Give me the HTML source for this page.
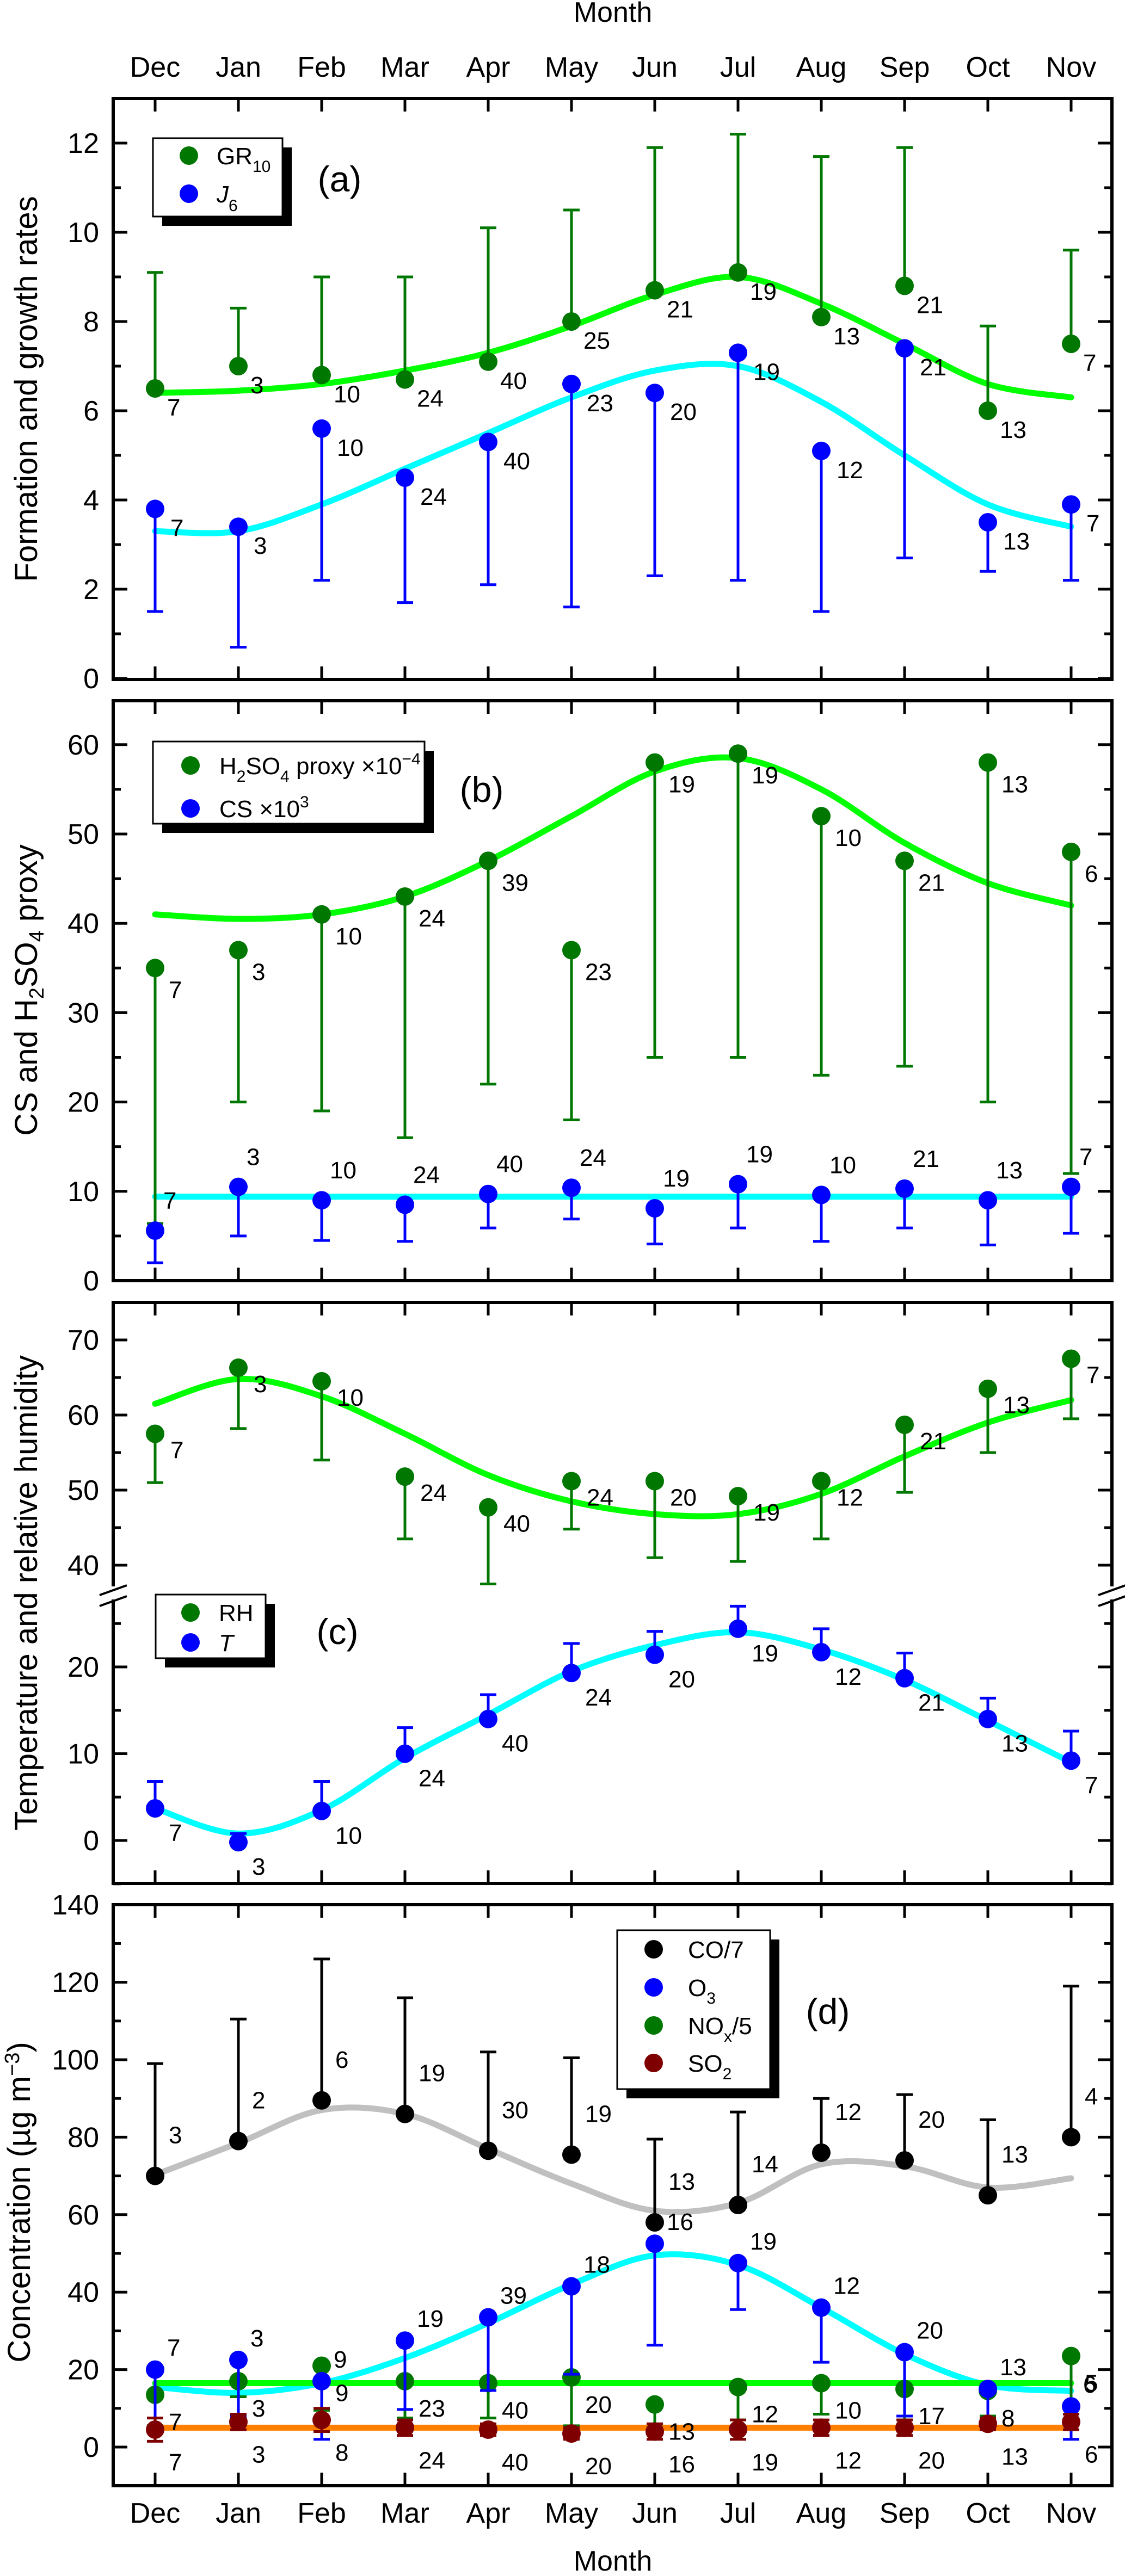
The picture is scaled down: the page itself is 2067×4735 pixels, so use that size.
<!DOCTYPE html>
<html><head><meta charset="utf-8"><style>
html,body{margin:0;padding:0;background:#fff}
svg{display:block}
text{font-family:"Liberation Sans",Arial,sans-serif;fill:#000}
</style></head><body>
<svg id="chart" xmlns="http://www.w3.org/2000/svg" width="2067" height="4735" viewBox="0 0 2067 4735"></svg>
<script>
const months=['Dec','Jan','Feb','Mar','Apr','May','Jun','Jul','Aug','Sep','Oct','Nov'];
// Panel a
const grVals=[6.5,7.0,6.8,6.7,7.1,8.0,8.7,9.1,8.1,8.8,6.0,7.5];
const grUpper=[9.1,8.3,9.0,9.0,10.1,10.5,11.9,12.2,11.7,11.9,7.9,9.6];
const grN=[7,3,10,24,40,25,21,19,13,21,13,7];
const grFit=[6.4,6.45,6.6,6.9,7.3,7.9,8.6,9.0,8.4,7.5,6.6,6.3];
const jVals=[3.8,3.4,5.6,4.5,5.3,6.6,6.4,7.3,5.1,7.4,3.5,3.9];
const jLower=[1.5,0.7,2.2,1.7,2.1,1.6,2.3,2.2,1.5,2.7,2.4,2.2];
const jN=[7,3,10,24,40,23,20,19,12,21,13,7];
const jFit=[3.3,3.3,3.9,4.7,5.5,6.3,6.9,7.0,6.2,5.0,3.9,3.4];
// Panel b
const hVals=[35,37,41,43,47,37,58,59,52,47,58,48];
const hLower=[6.4,20,19,16,22,18,25,25,23,24,20,12];
const hN=[7,3,10,24,39,23,19,19,10,21,13,6];
const hFit=[41,40.5,41,43,47,52,57,58.5,55,49,44.5,42];
const csVals=[5.6,10.5,9,8.5,9.7,10.4,8.1,10.8,9.6,10.3,9,10.5];
const csLower=[2,5,4.5,4.4,5.9,6.9,4.1,5.9,4.4,5.9,4,5.3];
const csN=[7,3,10,24,40,24,19,19,10,21,13,7];
const csFit=[9.4,9.4,9.4,9.4,9.4,9.4,9.4,9.4,9.4,9.4,9.4,9.4];
// Panel c
const rhVals=[57.5,66.3,64.5,51.8,47.7,51.2,51.2,49.2,51.2,58.7,63.5,67.5];
const rhLower=[51,58.2,54,43.5,37.5,44.8,41,40.5,43.5,49.7,55,59.5];
const rhN=[7,3,10,24,40,24,20,19,12,21,13,7];
const rhFit=[61.5,64.8,62.5,57.5,52,48.5,46.8,46.8,49.5,54.5,59,62];
const tVals=[3.7,-0.2,3.4,10,14,19.3,21.4,24.4,21.7,18.7,14,9.2];
const tUpper=[6.8,0.8,6.8,13,16.8,22.7,24.1,27,24.4,21.6,16.4,12.6];
const tN=[7,3,10,24,40,24,20,19,12,21,13,7];
const tFit=[3.7,0.8,3.5,9.5,14.5,19.5,22.5,24,22,18.5,13.8,9];
// Panel d
const coVals=[70,79,89.5,86,76.5,75.5,58,62.5,76,74,65,80];
const coUpper=[99,110.5,126,116,102,100.5,79.5,86.5,90,91,84.5,119];
const coN=[3,2,6,19,30,19,13,14,12,20,13,4];
const coFit=[70.3,78.5,87,86,77,68,61,63,73,72.5,67,69.4];
const o3Vals=[20,22.5,17,27.5,33.5,41.5,52.5,47.5,36,24.5,15,10.5];
const o3Lower=[5,8,2,9.7,14.6,18.8,26.3,35.5,21.9,8,4.5,2];
const o3N=[7,3,9,19,39,18,16,19,12,20,13,6];
const o3Fit=[15.5,14,16.5,23,32,42,49.5,47,36,24,16,14.5];
const noxVals=[13.5,17,21,17,16.5,18,11,15.5,16.5,15,14.5,23.5];
const noxLower=[5.5,13,9.5,7.5,7.5,5.5,5,7,8.5,7,8,10];
const noxN=[7,3,9,23,40,20,13,12,10,17,8,5];
const noxFit=[16.5,16.5,16.5,16.5,16.5,16.5,16.5,16.5,16.5,16.5,16.5,16.5];
const so2Vals=[4.5,6.5,7,5,4.5,3.5,4,4.5,5,5,6,6.5];
const so2Err=[3,2,3,2,1.5,1.5,2,2.5,2,2,1.5,2];
const so2N=[7,3,8,24,40,20,16,19,12,20,13,6];
const so2Fit=[5,5,5,5,5,5,5,5,5,5,5,5];

const NS='http://www.w3.org/2000/svg';
const svg=document.getElementById('chart');
function el(tag,attrs,parent){const e=document.createElementNS(NS,tag);for(const k in attrs)e.setAttribute(k,attrs[k]);(parent||svg).appendChild(e);return e;}
const L=208,R=2043;
const xOf=i=>285+i*153;
const C={dg:'#007700',bl:'#0000ff',lg:'#00ff00',cy:'#00ffff',gr:'#c0c0c0',br:'#7f0000',or:'#ff8000'};

function frame(top,bot,name){
  const r=el('rect',{x:L,y:top,width:R-L,height:bot-top,fill:'none',stroke:'#000','stroke-width':6});
  
  
  months.forEach((m,i)=>{
    const x=xOf(i);
    const t1=el('line',{x1:x,y1:top,x2:x,y2:top+24,stroke:'#000','stroke-width':5});
    
    
    const t2=el('line',{x1:x,y1:bot,x2:x,y2:bot-24,stroke:'#000','stroke-width':5});
    
    
  });
}
function yTicks(ys,v0,v1,step,labelStep,lo,hi){
  for(let v=v0;v<=v1+1e-9;v+=step){
    const y=ys(v); if(y<lo-1||y>hi+1)continue;
    const major=Math.abs(v/labelStep-Math.round(v/labelStep))<1e-6;
    const len=major?26:14;
    const a=el('line',{x1:L,y1:y,x2:L+len,y2:y,stroke:'#000','stroke-width':5});
    
    
    const b=el('line',{x1:R,y1:y,x2:R-len,y2:y,stroke:'#000','stroke-width':5});
    
    
    if(major){
      const t=el('text',{x:182,y:y+18,'font-size':52,'text-anchor':'end'});
      t.textContent=String(Math.round(v));
      
      
    }
  }
}
function curve(vals,ys,color,name){
  const p=vals.map((v,i)=>[xOf(i),ys(v)]);
  let d='M'+p[0][0]+','+p[0][1];
  for(let i=0;i<p.length-1;i++){
    const p0=p[i-1]||p[i],p1=p[i],p2=p[i+1],p3=p[i+2]||p[i+1];
    const c1=[p1[0]+(p2[0]-p0[0])/6,p1[1]+(p2[1]-p0[1])/6];
    const c2=[p2[0]-(p3[0]-p1[0])/6,p2[1]-(p3[1]-p1[1])/6];
    d+=` C${c1[0]},${c1[1]} ${c2[0]},${c2[1]} ${p2[0]},${p2[1]}`;
  }
  const e=el('path',{d,fill:'none',stroke:color,'stroke-width':11,'stroke-linecap':'round'});
  
  
}
function series(vals,errEnd,ys,col,errCol,name,counts,ldx,ldy,r){
  r=r||17;
  vals.forEach((v,i)=>{
    const x=xOf(i),y=ys(v);
    if(errEnd){
      const ends=Array.isArray(errEnd[0])?errEnd[i]:[errEnd[i]];
      ends.forEach(ev=>{
        const ye=ys(ev);
        const l=el('line',{x1:x,y1:y,x2:x,y2:ye,stroke:errCol,'stroke-width':5});
        
        
        const c=el('line',{x1:x-15,y1:ye,x2:x+15,y2:ye,stroke:errCol,'stroke-width':5});
        
        
      });
    }
    const m=el('ellipse',{cx:x,cy:y,rx:r,ry:r,fill:col});
    
    
    if(counts){
      const t=el('text',{x:x+ldx,y:y+ldy,'font-size':44});
      t.textContent=String(counts[i]);
      
      
    }
  });
}
function legend(x,y,w,h,entries,name){
  const s=el('rect',{x:x+17,y:y+17,width:w,height:h,fill:'#000'});
  
  
  const b=el('rect',{x,y,width:w,height:h,fill:'#fff',stroke:'#000','stroke-width':3});
  
  
  entries.forEach(en=>{
    const c=el('ellipse',{cx:en.mx,cy:en.y,rx:17,ry:17,fill:en.col});
    
    
    const t=el('text',{x:en.tx,y:en.y+16,'font-size':en.fs||44});
    t.innerHTML=en.html;
    
    
  });
}
function label(txt,x,y,size,name,anchor,rot){
  const t=el('text',{x,y,'font-size':size,'text-anchor':anchor||'middle'});
  if(rot)t.setAttribute('transform',`rotate(-90 ${x} ${y})`);
  t.innerHTML=txt;
  
  
  return t;
}

label('Month',1126,40,52,'top-x-axis-title');
months.forEach((m,i)=>label(m,xOf(i),141,52,'top-month-label'));
months.forEach((m,i)=>label(m,xOf(i),4637,52,'bottom-month-label'));
label('Month',1126,4725,52,'bottom-x-axis-title');

// Panel a
{
  const ys=v=>1247-82*v;
  frame(181,1249,'panel-a');
  yTicks(ys,0,13,1,2,181,1249);
  curve(grFit,ys,C.lg,'gr-fit-curve');
  curve(jFit,ys,C.cy,'j-fit-curve');
  series(grVals,grUpper,ys,C.dg,C.dg,'gr10',grN,22,50);
  series(jVals,jLower,ys,C.bl,C.bl,'j6',jN,28,50);
  legend(281,254,238,144,[
    {mx:347,y:286,col:C.dg,tx:398,html:'GR<tspan font-size="30" dy="14">10</tspan>'},
    {mx:347,y:356,col:C.bl,tx:398,html:'<tspan font-style="italic">J</tspan><tspan font-size="30" dy="16">6</tspan>'}],'legend-a');
  label('(a)',624,352,66,'panel-a-label');
  label('Formation and growth rates',68,715,58,'panel-a-y-axis-title','middle',true);
}
// Panel b
{
  const ys=v=>2354-16.42*v;
  frame(1288,2354,'panel-b');
  yTicks(ys,0,65,5,10,1288,2354);
  curve(hFit,ys,C.lg,'h2so4-fit-curve');
  curve(csFit,ys,C.cy,'cs-fit-curve');
  series(hVals,hLower,ys,C.dg,C.dg,'h2so4',hN,25,55);
  series(csVals,csLower,ys,C.bl,C.bl,'cs',csN,15,-40);
  legend(281,1363,499,151,[
    {mx:350,y:1407,col:C.dg,tx:403,html:'H<tspan font-size="30" dy="14">2</tspan><tspan dy="-14">SO</tspan><tspan font-size="30" dy="14">4</tspan><tspan dy="-14"> proxy ×10</tspan><tspan font-size="30" dy="-18">−4</tspan>'},
    {mx:350,y:1486,col:C.bl,tx:403,html:'CS ×10<tspan font-size="30" dy="-18">3</tspan>'}],'legend-b');
  label('(b)',885,1474,66,'panel-b-label');
  label('CS and H<tspan font-size="38" dy="12">2</tspan><tspan dy="-12">SO</tspan><tspan font-size="38" dy="12">4</tspan><tspan dy="-12"> proxy</tspan>',68,1820,58,'panel-b-y-axis-title','middle',true);
}
// Panel c
{
  const ysU=v=>2463-13.8*(v-70);
  const ysL=v=>3383-15.95*v;
  frame(2394,3462,'panel-c');
  yTicks(ysU,40,75,5,10,2394,2900);
  yTicks(ysL,-5,25,5,10,2955,3462);
  [L,R].forEach(bx=>{
    const w=el('rect',{x:bx-30,y:2916,width:60,height:24,fill:'#fff'});
    
    
    [0,20].forEach(o=>{
      const l=el('line',{x1:bx-25,y1:2932+o,x2:bx+25,y2:2914+o,stroke:'#000','stroke-width':4});
      
      
    });
  });
  curve(rhFit,ysU,C.lg,'rh-fit-curve');
  curve(tFit,ysL,C.cy,'t-fit-curve');
  series(rhVals,rhLower,ysU,C.dg,C.dg,'rh',rhN,28,45);
  series(tVals,tUpper,ysL,C.bl,C.bl,'temperature',tN,25,60);
  legend(286,2931,202,117,[
    {mx:350,y:2964,col:C.dg,tx:402,html:'RH'},
    {mx:350,y:3019,col:C.bl,tx:402,html:'<tspan font-style="italic">T</tspan>'}],'legend-c');
  label('(c)',620,3022,66,'panel-c-label');
  label('Temperature and relative humidity',68,2928,58,'panel-c-y-axis-title','middle',true);
}
// Panel d
{
  const ys=v=>4498-7.12*v;
  frame(3501,4569,'panel-d');
  yTicks(ys,-10,140,10,20,3501,4569);
  curve(coFit,ys,C.gr,'co-fit-curve');
  curve(o3Fit,ys,C.cy,'o3-fit-curve');
  curve(noxFit,ys,C.lg,'nox-fit-curve');
  curve(so2Fit,ys,C.or,'so2-fit-curve');
  series(coVals,coUpper,ys,'#000','#000','co',coN,25,-60);
  series(noxVals,noxLower,ys,C.dg,C.dg,'nox',noxN,25,65);
  series(o3Vals,o3Lower,ys,C.bl,C.bl,'o3',o3N,22,-25);
  series(so2Vals,so2Vals.map((v,i)=>[v-so2Err[i],v+so2Err[i]]),ys,C.br,C.br,'so2',so2N,25,75);
  legend(1134,3548,281,292,[
    {mx:1201,y:3583,col:'#000',tx:1264,html:'CO/7'},
    {mx:1201,y:3653,col:C.bl,tx:1264,html:'O<tspan font-size="30" dy="14">3</tspan>'},
    {mx:1201,y:3723,col:C.dg,tx:1264,html:'NO<tspan font-size="30" dy="14">x</tspan><tspan dy="-14">/5</tspan>'},
    {mx:1201,y:3792,col:C.br,tx:1264,html:'SO<tspan font-size="30" dy="14">2</tspan>'}],'legend-d');
  label('(d)',1521,3720,66,'panel-d-label');
  label('Concentration (µg m<tspan font-size="38" dy="-20">−3</tspan><tspan dy="20">)</tspan>',55,4048,58,'panel-d-y-axis-title','middle',true);
}
</script>
</body></html>
